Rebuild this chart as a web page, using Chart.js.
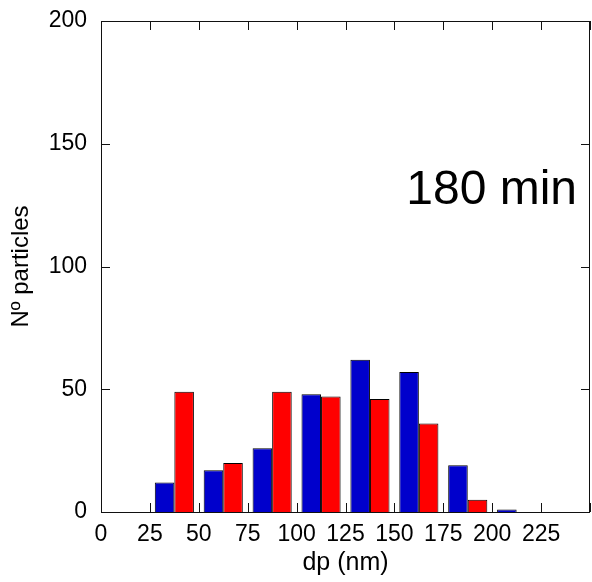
<!DOCTYPE html>
<html>
<head>
<meta charset="utf-8">
<script src="https://cdn.jsdelivr.net/npm/chart.js@4.4.1/dist/chart.umd.min.js"></script>
<style>
  html, body { margin: 0; padding: 0; background: #fff; }
  canvas { display: block; }
</style>
</head>
<body>
<canvas id="chart" width="592" height="582"></canvas>
<script>
// bin centres (nm) and counts
const dpBins = [37.5, 62.5, 87.5, 112.5, 137.5, 162.5, 187.5, 212.5];
const blueCounts = [12, 17, 26, 48, 62, 57, 19, 1];
const redCounts = [49, 20, 49, 47, 46, 36, 5, 0];
const xTicks = [0, 25, 50, 75, 100, 125, 150, 175, 200, 225, 250];
const yTicks = [0, 50, 100, 150, 200];
const panelLabel = '180 min';

const font = 'Liberation Sans, Arial, sans-serif';

// frame + inward ticks on all four sides, plus the "180 min" label
const framePlugin = {
    id: 'frame',
    afterDraw(chart) {
        const { ctx, chartArea: a, scales } = chart;
        ctx.save();
        ctx.strokeStyle = '#111';
        ctx.lineWidth = 1;
        ctx.strokeRect(a.left + 0.5, a.top + 0.5, a.right - a.left - 1, a.bottom - a.top);
        ctx.beginPath();
        xTicks.forEach(v => {
            const x = Math.round(scales.x.getPixelForValue(v)) + 0.5;
            ctx.moveTo(x, a.bottom); ctx.lineTo(x, a.bottom - 9);
            ctx.moveTo(x, a.top); ctx.lineTo(x, a.top + 9);
        });
        yTicks.forEach(v => {
            const y = Math.round(scales.y.getPixelForValue(v)) + 0.5;
            ctx.moveTo(a.left, y); ctx.lineTo(a.left + 9, y);
            ctx.moveTo(a.right, y); ctx.lineTo(a.right - 9, y);
        });
        ctx.stroke();

        ctx.fillStyle = '#000';
        ctx.font = '48px ' + font;
        ctx.textAlign = 'right';
        ctx.textBaseline = 'alphabetic';
        ctx.fillText(panelLabel, 577, 204);
        ctx.restore();
    }
};

const ctx = document.getElementById('chart').getContext('2d');
new Chart(ctx, {
    type: 'bar',
    data: {
        datasets: [{
            data: dpBins.map((x, i) => ({ x: x, y: blueCounts[i] })),
            backgroundColor: '#0000CC',
            borderColor: '#000',
            borderWidth: 1,
            borderSkipped: 'start'
        }, {
            data: dpBins.map((x, i) => ({ x: x, y: redCounts[i] })),
            backgroundColor: '#FF0000',
            borderColor: '#000',
            borderWidth: 1,
            borderSkipped: 'start'
        }]
    },
    options: {
        responsive: false,
        animation: false,
        categoryPercentage: 0.8,
        barPercentage: 1,
        layout: { padding: { top: 21, right: 2, left: 0, bottom: 0 } },
        plugins: {
            legend: { display: false },
            tooltip: { enabled: false }
        },
        scales: {
            x: {
                type: 'linear',
                offset: false,
                min: 0,
                max: 250,
                afterBuildTicks: scale => {
                    scale.ticks = xTicks.map(v => ({ value: v }));
                },
                afterFit: scale => {
                    scale.height = 70;
                    scale.paddingLeft = 0;
                    scale.paddingRight = 0;
                },
                grid: { display: false, drawTicks: false },
                border: { display: false },
                ticks: {
                    padding: 9,
                    color: '#000',
                    maxRotation: 0,
                    autoSkip: false,
                    font: { family: font, size: 23 },
                    callback: v => (v === 250 ? '' : v)
                },
                title: {
                    display: true,
                    text: 'dp (nm)',
                    color: '#000',
                    font: { family: font, size: 25 },
                    padding: { top: 0, bottom: 4 }
                }
            },
            y: {
                min: 0,
                max: 200,
                afterBuildTicks: scale => {
                    scale.ticks = yTicks.map(v => ({ value: v }));
                },
                afterFit: scale => {
                    scale.width = 101;
                    scale.paddingTop = 0;
                    scale.paddingBottom = 0;
                },
                grid: { display: false, drawTicks: false },
                border: { display: false },
                ticks: {
                    padding: 14,
                    color: '#000',
                    font: { family: font, size: 23 }
                },
                title: {
                    display: true,
                    text: 'Nº particles',
                    color: '#000',
                    font: { family: font, size: 24 },
                    padding: { top: 7, bottom: 0 }
                }
            }
        }
    },
    plugins: [framePlugin]
});
</script>
</body>
</html>
